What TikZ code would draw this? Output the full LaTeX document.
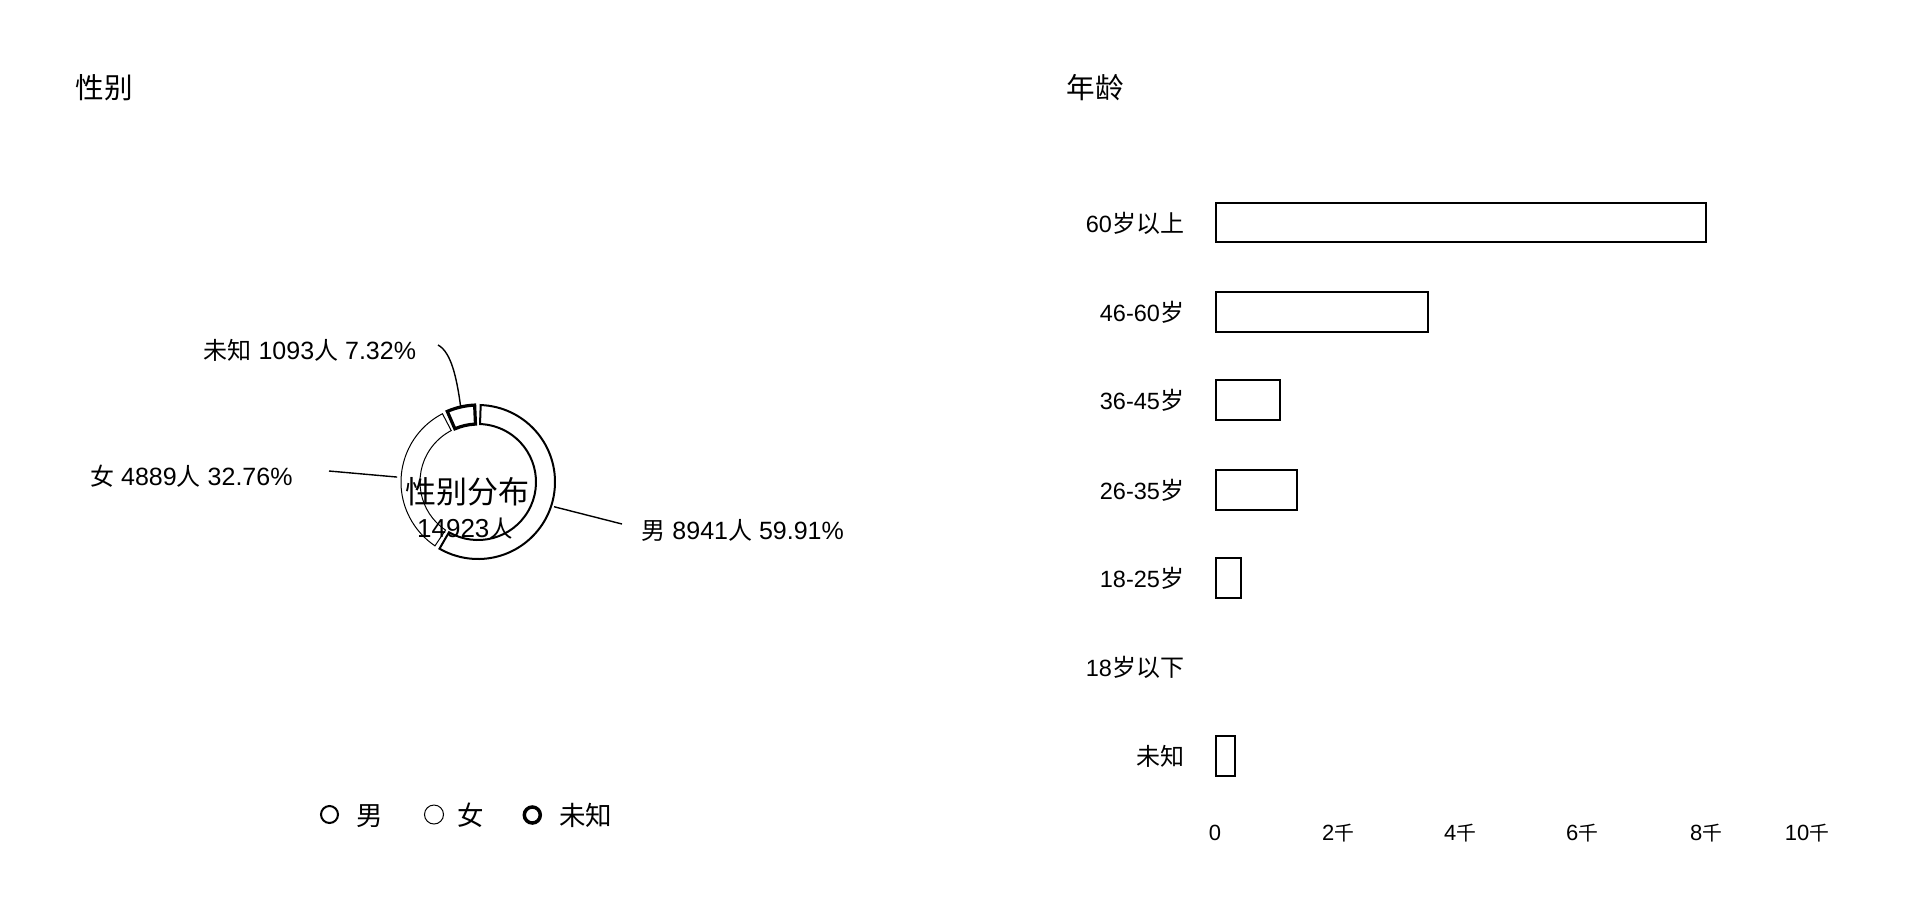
\documentclass[tikz,border=0pt]{standalone}
\usepackage{fontspec}
\setmainfont{Liberation Sans}
\newfontfamily\cjk{Noto Sans CJK SC}
\def\cjksz{22}
\newcommand\zh[1]{{\cjk\fontsize{\cjksz}{\cjksz}\selectfont #1}}
\newcommand\fsz[1]{\fontsize{#1}{#1}\selectfont}
\usetikzlibrary{calc}
\begin{document}
\begin{tikzpicture}[x=1pt,y=-1pt,
  txt/.style={inner sep=0pt,outer sep=0pt},
  title/.style={txt,anchor=base west,font={\def\cjksz{28.6}}},
  pielbl/.style={txt,font={\fsz{25}\def\cjksz{24}}},
  leglbl/.style={txt,anchor=base west,font={\def\cjksz{26.5}}},
  barlbl/.style={txt,anchor=base east,font={\fsz{23.5}\def\cjksz{24}}},
  axlbl/.style={txt,anchor=base,font={\fsz{22}\def\cjksz{19.8}}},
  bar/.style={draw,line width=2.7pt,fill=white},
  leader/.style={draw,line width=1.4pt}]
\fill[white] (0,0) rectangle (1932,914);
\useasboundingbox (0,0) rectangle (1932,914);

% titles
\node[title] (t1) at (75.5,98) {\zh{性别}};
\node[title] (t2) at (1066.5,98.5) {\zh{年龄}};

% donut
\coordinate (C) at (478,482);
\draw[line width=2pt] ($(C)+(-88:77)$) arc[start angle=-88,end angle=120,radius=77]
  -- ($(C)+(120:58)$) arc[start angle=120,end angle=-88,radius=58] -- cycle;
\draw[line width=1pt] ($(C)+(-117.5:77)$) arc[start angle=-117.5,end angle=-236,radius=77]
  -- ($(C)+(-236:58)$) arc[start angle=-236,end angle=-117.5,radius=58] -- cycle;
\draw[line width=3.2pt] ($(C)+(-92.5:77)$) arc[start angle=-92.5,end angle=-113.5,radius=77]
  -- ($(C)+(-113.5:58)$) arc[start angle=-113.5,end angle=-92.5,radius=58] -- cycle;

% centre text
\node[txt,anchor=base,font={\def\cjksz{31}}] (ct) at (467,503) {\zh{性别分布}};
\node[txt,anchor=base,font={\fsz{26}\def\cjksz{23.4}}] (cn) at (465,537) {14923\zh{人}};

% pie labels
\node[pielbl,anchor=base east] (lu) at (416,359.5) {\zh{未知} 1093\zh{人} 7.32\%};
\node[pielbl,anchor=base east] (lf) at (292.5,485.5) {\zh{女} 4889\zh{人} 32.76\%};
\node[pielbl,anchor=base west] (lm) at (641.5,539.5) {\zh{男} 8941\zh{人} 59.91\%};

% leader lines
\coordinate (uA) at ($(C)+(-103:77)$);
\coordinate (uB) at (438,345);
\coordinate (fA) at ($(C)+(-176.5:81)$);
\coordinate (fB) at (329,471);
\coordinate (mA) at ($(C)+(18:80)$);
\coordinate (mB) at (622,524);
\path[leader] (uA) .. controls ($(uA)+(-4,-30)$) and ($(uB)+(13,7)$) .. (uB);
\path[leader] (fA) -- (fB);
\path[leader] (mA) -- (mB);

% legend
\draw[line width=2pt] (329.5,814.5) circle[radius=8.5];
\node[leglbl] (g1) at (356,825) {\zh{男}};
\draw[line width=1pt] (434,814.5) circle[radius=9.5];
\node[leglbl] (g2) at (457,825) {\zh{女}};
\draw[line width=3.5pt] (532.3,815) circle[radius=8];
\node[leglbl] (g3) at (559,825) {\zh{未知}};

% bars
\draw[bar] (1216,203) rectangle (1706,242);
\draw[bar] (1216,292) rectangle (1428,332);
\draw[bar] (1216,380) rectangle (1280,420);
\draw[bar] (1216,470) rectangle (1297,510);
\draw[bar] (1216,558) rectangle (1241,598);
\draw[bar] (1216,736) rectangle (1235,776);

% bar labels
\node[barlbl] (b1) at (1184,232) {60\zh{岁以上}};
\node[barlbl] (b2) at (1184,321.5) {46-60\zh{岁}};
\node[barlbl] (b3) at (1184,409.5) {36-45\zh{岁}};
\node[barlbl] (b4) at (1184,499.5) {26-35\zh{岁}};
\node[barlbl] (b5) at (1184,587.5) {18-25\zh{岁}};
\node[barlbl] (b6) at (1184,676.5) {18\zh{岁以下}};
\node[barlbl] (b7) at (1184,765.5) {\zh{未知}};

% axis labels
\node[axlbl] (a0) at (1215,840) {0};
\node[axlbl] (a1) at (1338,840) {2\zh{千}};
\node[axlbl] (a2) at (1460,840) {4\zh{千}};
\node[axlbl] (a3) at (1582,840) {6\zh{千}};
\node[axlbl] (a4) at (1706,840) {8\zh{千}};
\node[axlbl] (a5) at (1807,840) {10\zh{千}};
\end{tikzpicture}
\end{document}
